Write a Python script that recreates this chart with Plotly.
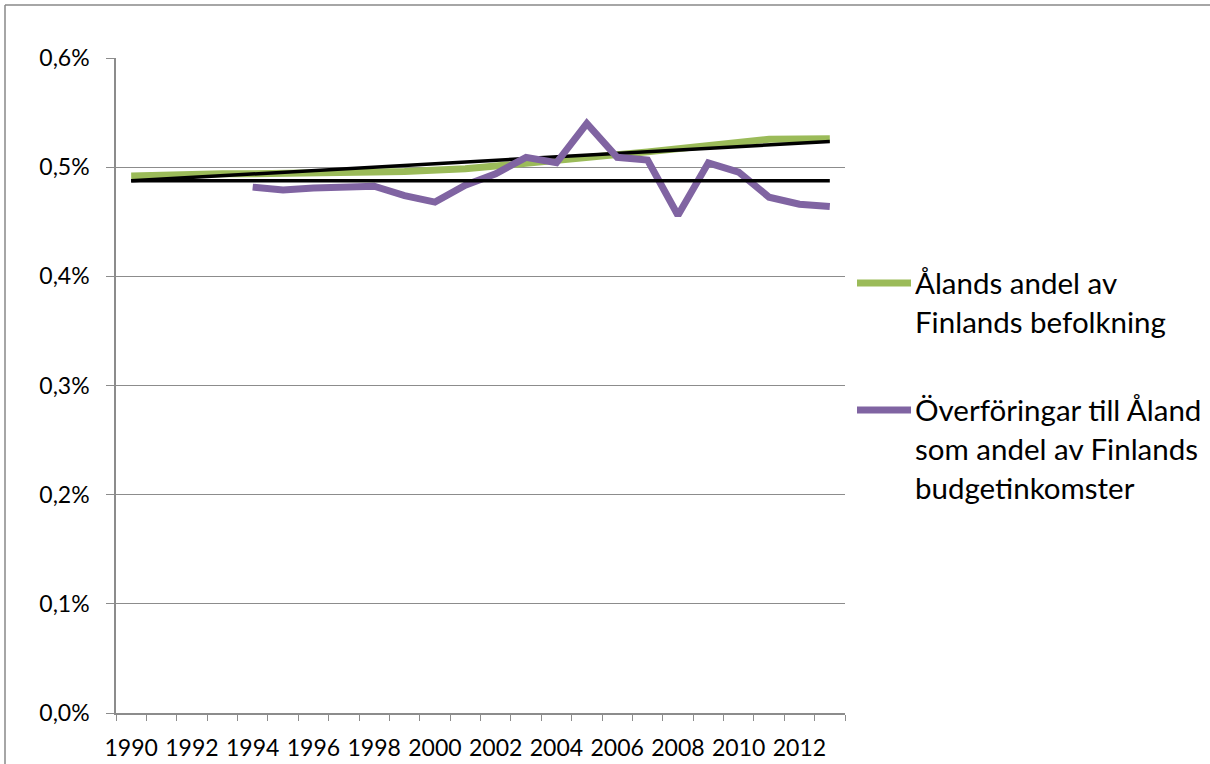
import plotly.graph_objects as go

years = list(range(1990, 2014))
befolkning = [0.492, 0.493, 0.4935, 0.494, 0.494, 0.494, 0.4945, 0.495, 0.4955, 0.496,
              0.4965, 0.4985, 0.501, 0.504, 0.5065, 0.509, 0.5115, 0.514, 0.517, 0.520,
              0.523, 0.5255, 0.5258, 0.526]
transfer_years = list(range(1994, 2014))
overforingar = [0.4817, 0.479, 0.481, 0.4817, 0.4826, 0.474, 0.468, 0.4835, 0.494, 0.509,
                0.504, 0.540, 0.509, 0.5065, 0.456, 0.504, 0.4955, 0.4725, 0.466, 0.464]
trend_years = [1990, 2013]
trend_befolkning = [0.4875, 0.5235]
trend_overforingar = [0.4875, 0.4875]

legend_pop = ["Ålands andel av", "Finlands befolkning"]
legend_tr = ["Överföringar till Åland", "som andel av Finlands", "budgetinkomster"]
tick_years = list(range(1990, 2013, 2))
y_ticks = [0.0, 0.1, 0.2, 0.3, 0.4, 0.5, 0.6]
y_labels = ["0,0%", "0,1%", "0,2%", "0,3%", "0,4%", "0,5%", "0,6%"]

GREEN = "#9BBB59"
PURPLE = "#8064A2"
GRID = "#8C8C8C"
FONT = "Lato"

fig = go.Figure()
fig.add_trace(go.Scatter(x=years, y=befolkning, mode="lines", name=" ".join(legend_pop),
                         line=dict(color=GREEN, width=7), showlegend=False))
fig.add_trace(go.Scatter(x=trend_years, y=trend_befolkning, mode="lines",
                         line=dict(color="black", width=3.5), showlegend=False))
fig.add_trace(go.Scatter(x=transfer_years, y=overforingar, mode="lines", name=" ".join(legend_tr),
                         line=dict(color=PURPLE, width=7), showlegend=False))
fig.add_trace(go.Scatter(x=trend_years, y=trend_overforingar, mode="lines",
                         line=dict(color="black", width=3.5), showlegend=False))

# legend drawn manually (paper coordinates)
W, H = 729.0, 655.0
def px(x):
    return (x - 116) / W
def py(y):
    return (713 - y) / H

for yy, col, lines in [(283, GREEN, legend_pop), (410, PURPLE, legend_tr)]:
    fig.add_shape(type="line", xref="paper", yref="paper",
                  x0=px(857), x1=px(911), y0=py(yy), y1=py(yy),
                  line=dict(color=col, width=7))
    for i, t in enumerate(lines):
        fig.add_annotation(xref="paper", yref="paper", x=px(913), y=py(yy - 1 + 39 * i),
                           xanchor="left", yanchor="middle", align="left", showarrow=False,
                           text=t, font=dict(family=FONT, size=29.5, color="black"))

# outer chart border (only top and left edges are visible)
fig.add_shape(type="line", xref="paper", yref="paper",
              x0=px(5), x1=px(1210), y0=py(5), y1=py(5),
              line=dict(color="#898989", width=1.5), layer="below")
fig.add_shape(type="line", xref="paper", yref="paper",
              x0=px(5), x1=px(5), y0=py(5), y1=py(764),
              line=dict(color="#898989", width=1.5), layer="below")

fig.update_layout(
    width=1210, height=764,
    margin=dict(l=116, r=365, t=58, b=51),
    paper_bgcolor="white", plot_bgcolor="white",
    font=dict(family=FONT, size=23, color="black"),
    showlegend=False,
)
fig.update_xaxes(
    range=[1989.5, 2013.5], tickvals=tick_years, ticktext=[str(y) for y in tick_years],
    ticks="outside", ticklen=6, tickcolor="rgba(0,0,0,0)",
    minor=dict(ticks="outside", ticklen=6, tickcolor=GRID, tick0=1989.5, dtick=1, showgrid=False),
    showline=True, linecolor=GRID, linewidth=1.5, showgrid=False, zeroline=False,
    ticklabelstandoff=8, automargin=False,
)
fig.update_yaxes(
    range=[0, 0.6], tickvals=y_ticks, ticktext=y_labels,
    ticks="outside", ticklen=8, tickcolor=GRID,
    showline=True, linecolor=GRID, linewidth=1.5,
    showgrid=True, gridcolor=GRID, gridwidth=1.2, zeroline=False,
    ticklabelstandoff=12, automargin=False,
)

fig.write_html("out.html")
